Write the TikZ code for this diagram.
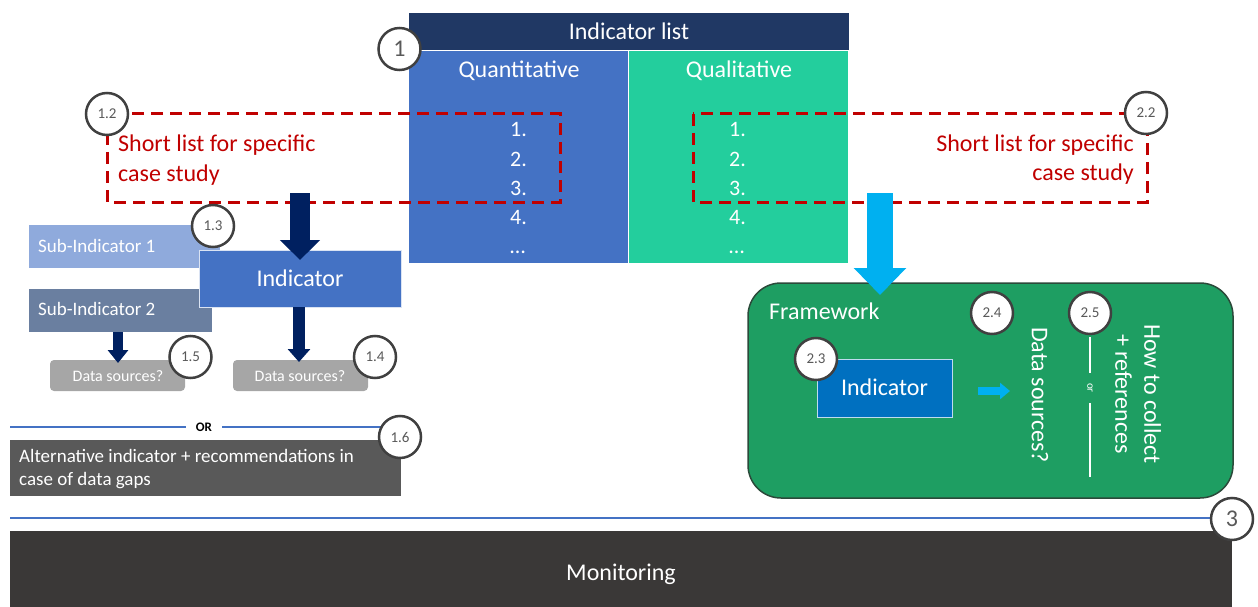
\documentclass[tikz,border=0pt]{standalone}
\usepackage{fontspec}
\setmainfont{Carlito}
\usetikzlibrary{arrows.meta}
\definecolor{navy}{HTML}{203864}
\definecolor{quant}{HTML}{4472C4}
\definecolor{qual}{HTML}{23CE9D}
\definecolor{dred}{HTML}{C00000}
\definecolor{darrow}{HTML}{002060}
\definecolor{sub1}{HTML}{8FAADC}
\definecolor{sub2}{HTML}{6A7FA0}
\definecolor{dsgray}{HTML}{A6A6A6}
\definecolor{altgray}{HTML}{595959}
\definecolor{lblue}{HTML}{00B0F0}
\definecolor{fwgreen}{HTML}{1E9E62}
\definecolor{fwborder}{HTML}{2B4A3A}
\definecolor{indblue}{HTML}{0070C0}
\definecolor{mongray}{HTML}{3A3837}
\definecolor{circborder}{HTML}{404040}
\definecolor{circtext}{HTML}{595959}
\definecolor{sepline}{HTML}{4472C4}
\newcommand\fsz[2]{\fontsize{#1}{#2}\selectfont}
\tikzset{
  box/.style={anchor=north west, inner sep=0pt, outer sep=0pt},
  wtext/.style={text=white, inner sep=0pt},
  circ/.style={circle, draw=circborder, line width=2.5pt, fill=white, text=circtext,
    inner sep=0pt, minimum size=42pt, font=\fsz{15}{17}},
  bigcirc/.style={circ, font=\fsz{24}{26}},
  redbox/.style={draw=dred, line width=3pt, dash pattern=on 12pt off 7pt},
  redtext/.style={text=dred, inner sep=0pt, font=\fsz{24}{29}},
  numtext/.style={text=white, inner sep=0pt, anchor=base west, font=\fsz{22}{26}},
  dsbox/.style={box, fill=dsgray, rounded corners=4pt, minimum width=135pt, minimum height=31pt},
  dstext/.style={text=white, inner sep=0pt, font=\fsz{16}{18}, anchor=base},
}
\begin{document}
\begin{tikzpicture}[x=1pt,y=-1pt]
\useasboundingbox (0,0) rectangle (1258,607);

% ---------- Indicator list ----------
\node[box, fill=navy, minimum width=440pt, minimum height=37pt] (hdr) at (409,13) {};
\node[wtext, font=\fsz{24}{28}] (hdrT) at (629,31) {Indicator list};
\node[box, fill=quant, minimum width=219pt, minimum height=212pt] (quant) at (409,51) {};
\node[box, fill=qual, minimum width=219pt, minimum height=212pt] (qual) at (629,51) {};
\node[wtext, font=\fsz{24}{28}] (quantT) at (519,71) {Quantitative};
\node[wtext, font=\fsz{24}{28}] (qualT) at (739,71) {Qualitative};
\foreach \t [count=\i] in {1.,2.,3.,4.,…}{
  \node[numtext] (qn\i) at (510,{108+29*\i}) {\t};
  \node[numtext] (ln\i) at (729,{108+29*\i}) {\t};
}
\node[bigcirc] (c1) at (399.5,49) {1};

% ---------- short lists ----------
\draw[redbox] (107,114) rectangle (560,202);
\draw[redbox] (693,114) rectangle (1147,202);
\node[redtext, anchor=base west, align=left] (slL) at (118,181) {Short list for specific\\case study};
\node[redtext, anchor=base east, align=right] (slR) at (1134,180) {Short list for specific\\case study};
\node[circ] (c12) at (107,114) {1.2};
\node[circ] (c22) at (1146,113) {2.2};

% ---------- left branch ----------
\node[box, fill=sub1, minimum width=191pt, minimum height=43pt] (sub1) at (29,225) {};
\node[wtext, anchor=base west, font=\fsz{19}{22}] (sub1T) at (38,252) {Sub-Indicator 1};
\node[box, fill=sub2, minimum width=183pt, minimum height=43pt] (sub2) at (29,289) {};
\node[wtext, anchor=base west, font=\fsz{19}{22}] (sub2T) at (38,315) {Sub-Indicator 2};
\node[box, fill=quant, draw=white!80!quant, line width=1pt, minimum width=202pt, minimum height=57pt] (ind) at (199,250) {};
\node[wtext, font=\fsz{24}{28}, anchor=base] (indT) at (300,286) {Indicator};
\node[circ] (c13) at (213,226) {1.3};

\coordinate (bigA) at (300,193);
\draw[darrow, line width=20pt, -{Triangle[length=20pt, width=39pt]}] (bigA) -- (300,260);

\node[dsbox] (ds1) at (50,360) {};
\node[dstext] (ds1T) at (118,381) {Data sources?};
\node[dsbox] (ds2) at (233,360) {};
\node[dstext] (ds2T) at (300,381) {Data sources?};
\draw[darrow, line width=10pt, -{Triangle[length=13pt, width=20pt]}] (118,332) -- (118,363);
\draw[darrow, line width=12pt, -{Triangle[length=13pt, width=22pt]}] (299,307) -- (299,362);
\node[circ] (c15) at (190.5,357) {1.5};
\node[circ] (c14) at (375,357) {1.4};

% OR
\node[inner sep=0pt, font=\bfseries\fsz{13}{15}] (or) at (204,427) {OR};
\coordinate (orL) at (10,427);
\coordinate (orR) at (385,427);
\draw[sepline, line width=1.2pt] (orL) -- ([xshift=-10pt]or.west);
\draw[sepline, line width=1.2pt] ([xshift=10pt]or.east) -- (orR);
\node[box, fill=altgray, minimum width=391pt, minimum height=56pt] (alt) at (10,440) {};
\node[wtext, anchor=base west, align=left, font=\fsz{19}{23}] (altT) at (19,485) {Alternative indicator + recommendations in\\case of data gaps};
\node[circ] (c16) at (400,437) {1.6};

% ---------- framework ----------
\node[box, fill=fwgreen, draw=fwborder, line width=1.5pt, rounded corners=33pt, minimum width=485pt, minimum height=215pt] (fw) at (748,283) {};
\node[wtext, anchor=base west, font=\fsz{24}{28}] (fwT) at (769,319) {Framework};
\coordinate (blA) at (880,193);
\draw[lblue, line width=26pt, -{Triangle[length=27pt, width=51pt]}] (blA) -- (880,295);

\node[box, fill=indblue, draw=white!75!indblue, line width=1pt, minimum width=135pt, minimum height=58pt] (ind2) at (817,359) {};
\node[wtext, font=\fsz{24}{28}, anchor=base] (ind2T) at (884.5,395) {Indicator};
\node[circ] (c23) at (816,359) {2.3};
\coordinate (saA) at (978,391);
\draw[lblue, line width=8pt, -{Triangle[length=10pt, width=16pt]}] (saA) -- (1010,391);

\node[wtext, rotate=-90, font=\fsz{24}{28}] (dsR) at (1040,395) {Data sources?};
\node[wtext, rotate=-90, font=\fsz{11}{12}] (orR2) at (1090,388) {or};
\coordinate (vl1) at (1090,337);
\coordinate (vl1b) at (1090,373);
\coordinate (vl2a) at (1090,403);
\coordinate (vl2) at (1090,477);
\draw[white, line width=1.2pt] (vl1) -- (vl1b);
\draw[white, line width=1.2pt] (vl2a) -- (vl2);
\node[wtext, rotate=-90, align=center, font=\fsz{24}{29}] (howT) at (1138,394) {How to collect\\+ references};
\node[circ] (c24) at (992,313) {2.4};
\node[circ] (c25) at (1090,313) {2.5};

% ---------- monitoring ----------
\coordinate (mlL) at (10,518);
\coordinate (mlR) at (1212,518);
\draw[sepline, line width=1.5pt] (mlL) -- (mlR);
\node[box, fill=mongray, minimum width=1222pt, minimum height=76pt] (mon) at (10,531) {};
\node[wtext, font=\fsz{24}{28}] (monT) at (621,574) {Monitoring};
\node[bigcirc] (c3) at (1232,519) {3};
\end{tikzpicture}
\end{document}
